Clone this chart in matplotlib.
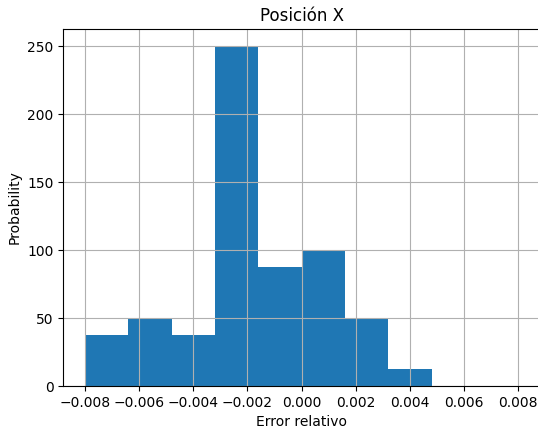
import numpy as np
import matplotlib
matplotlib.use("Agg")
import matplotlib.pyplot as plt

# histogram edges (10 bins over [-0.008, 0.008]) and density heights
bin_edges = np.linspace(-0.008, 0.008, 11)
densidad = [37.5, 50, 37.5, 250, 87.5, 100, 50, 12.5, 0, 0]

fig = plt.figure(figsize=(5.38, 4.33), dpi=100)
ax = fig.add_axes([0.1178, 0.1085, 0.8855, 0.8245])
ax.hist(bin_edges[:-1], bins=bin_edges, weights=densidad, color="#1f77b4")
ax.grid(True)
ax.set_title("Posición X")
ax.set_xlabel("Error relativo")
ax.set_ylabel("Probability")
ax.set_xticks(np.arange(-0.008, 0.0081, 0.002))
fig.savefig("out.png", dpi=100)
